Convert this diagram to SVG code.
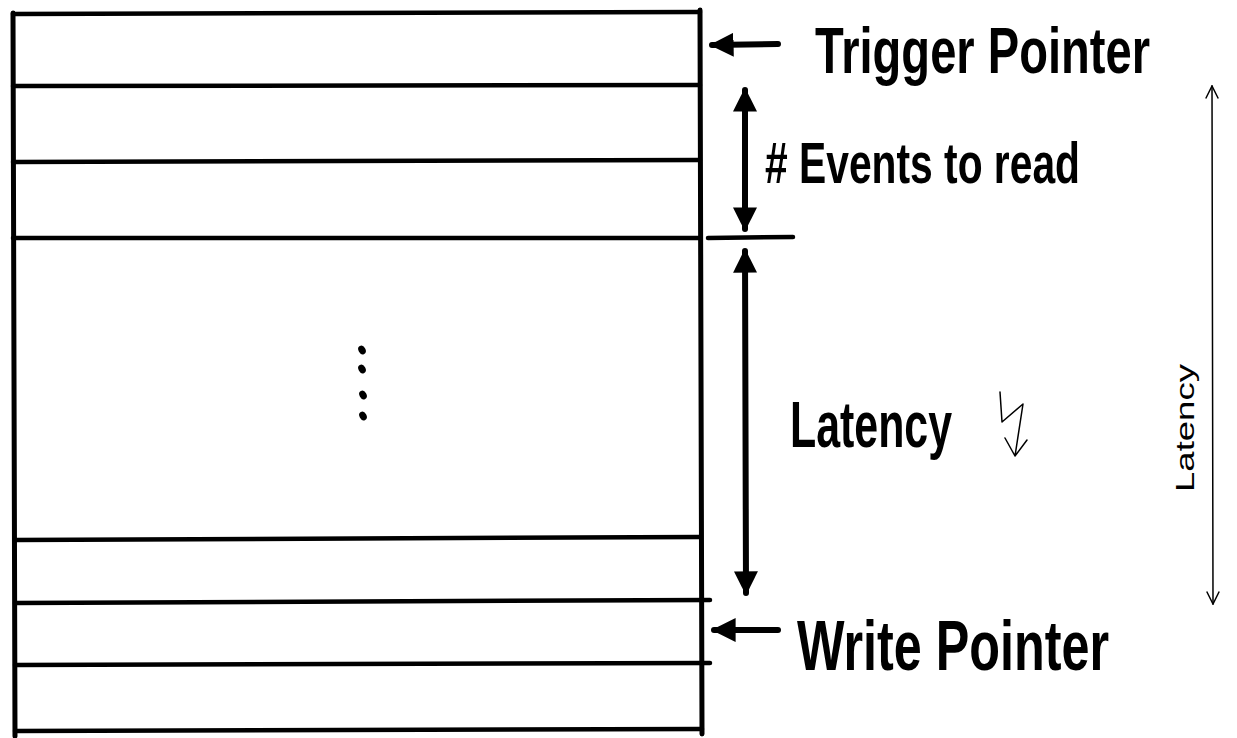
<svg xmlns="http://www.w3.org/2000/svg" width="1237" height="738" viewBox="0 0 1237 738">
  <style>
    .frame { stroke: #000; stroke-width: 5; fill: none; stroke-linecap: round; }
    .slot { stroke: #000; stroke-width: 4.5; fill: none; stroke-linecap: round; }
    .thick { stroke: #000; stroke-width: 6; fill: none; stroke-linecap: round; }
    .thin { stroke: #000; stroke-width: 1.5; fill: none; stroke-linecap: round; stroke-linejoin: round; }
    .label { font-family: "Liberation Sans", Arial, sans-serif; font-weight: bold; fill: #000; }
    .note { font-family: "Liberation Sans", Arial, sans-serif; fill: #000; }
  </style>
  <defs>
    <marker id="headBold" viewBox="0 0 10 10" refX="9" refY="5" markerWidth="4" markerHeight="4" orient="auto-start-reverse" markerUnits="strokeWidth">
      <path d="M0,0 L10,5 L0,10 Z" fill="#000"/>
    </marker>
    <marker id="headOpen" viewBox="0 0 12 12" refX="11" refY="6" markerWidth="10" markerHeight="10" orient="auto-start-reverse" markerUnits="strokeWidth">
      <path d="M1,1 L11,6 L1,11" fill="none" stroke="#000" stroke-width="1.2"/>
    </marker>
  </defs>

  <rect width="1237" height="738" fill="#fff"/>

  <!-- ring buffer with its slots -->
  <g id="buffer">
    <line class="frame" x1="13" y1="13" x2="15" y2="736"/>
    <line class="frame" x1="700" y1="10" x2="702" y2="734"/>
    <line class="slot" x1="13" y1="14" x2="700" y2="12"/>
    <line class="slot" x1="13" y1="86" x2="700" y2="85"/>
    <line class="slot" x1="13" y1="162" x2="700" y2="160"/>
    <line class="slot" x1="13" y1="238" x2="700" y2="238"/>
    <line class="slot" x1="15" y1="540" x2="700" y2="537"/>
    <line class="slot" x1="15" y1="603" x2="710" y2="600"/>
    <line class="slot" x1="15" y1="665" x2="710" y2="663"/>
    <line class="slot" x1="15" y1="731" x2="702" y2="729"/>
    <line class="slot" x1="708" y1="238" x2="793" y2="237"/>
    <!-- elided slots -->
    <ellipse cx="362" cy="350" rx="3.5" ry="4.5" transform="rotate(-30 362 350)"/>
    <ellipse cx="362" cy="369" rx="3.5" ry="4.5" transform="rotate(-30 362 369)"/>
    <ellipse cx="363" cy="395" rx="3.5" ry="4.5" transform="rotate(-30 363 395)"/>
    <ellipse cx="363" cy="416" rx="3.5" ry="4.5" transform="rotate(-30 363 416)"/>
  </g>

  <g id="trigger-pointer">
    <text class="label" x="0" y="0" font-size="56" transform="translate(815,73) scale(1,1.15)" textLength="335" lengthAdjust="spacingAndGlyphs">Trigger Pointer</text>
  </g>

  <g id="events-to-read">
    <text class="label" x="765" y="183" font-size="58" textLength="315" lengthAdjust="spacingAndGlyphs"># Events to read</text>
  </g>

  <g id="latency">
    <text class="label" x="790" y="447" font-size="64" textLength="162" lengthAdjust="spacingAndGlyphs">Latency</text>
    <!-- small lightning arrow -->
    <path class="thin" d="M1000,392 L1002,422 L1023,404 L1015,456 M1005,438 L1015,456 L1027,440"/>
  </g>

  <g id="latency-axis">
    <text class="note" x="0" y="0" font-size="26" transform="translate(1194,492) rotate(-90)" textLength="128" lengthAdjust="spacingAndGlyphs">Latency</text>
  </g>

  <g id="write-pointer">
    <text class="label" x="797" y="670" font-size="70" textLength="312" lengthAdjust="spacingAndGlyphs">Write Pointer</text>
  </g>

  <!-- connectors -->
  <g id="connectors">
    <line class="thick" x1="778" y1="44" x2="712" y2="45" marker-end="url(#headBold)"/>
    <line class="thick" x1="778" y1="630" x2="714" y2="630" marker-end="url(#headBold)"/>
    <line class="thick" x1="745" y1="90" x2="745" y2="229" marker-start="url(#headBold)" marker-end="url(#headBold)"/>
    <line class="thick" x1="745" y1="251" x2="746" y2="593" marker-start="url(#headBold)" marker-end="url(#headBold)"/>
    <line class="thin" x1="1212" y1="86" x2="1213" y2="604" marker-start="url(#headOpen)" marker-end="url(#headOpen)"/>
  </g>
</svg>
